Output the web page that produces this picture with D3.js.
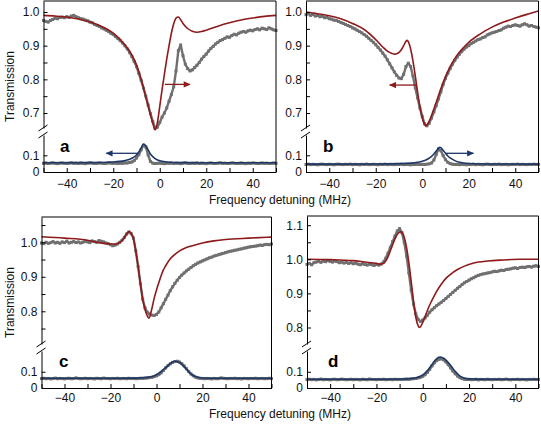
<!DOCTYPE html>
<html><head><meta charset="utf-8">
<script src="https://cdn.jsdelivr.net/npm/d3@7"></script>
<style>
body{margin:0;background:#fff;}
svg{display:block;font-family:"Liberation Sans",Arial,Helvetica,sans-serif;}
</style></head><body>
<svg id="chart" width="541" height="424"></svg>
<script>
// ---------- DATA ----------
const freqs = d3.range(-50, 51, 1);           // measured frequency grid (MHz)
const xTickValues = d3.range(-50, 51, 10);
const xTickLabels = [-40, -20, 0, 20, 40];
const yLabelsA = [0.7, 0.8, 0.9, 1.0];
const yLabelsB = [0.7, 0.8, 0.9, 1.0];
const yLabelsC = [0.8, 0.9, 1.0];
const yLabelsD = [0.8, 0.9, 1.0, 1.1];
const yLabelsLow = [0, 0.1];
const axisTitleX = "Frequency detuning (MHz)";
const axisTitleY = "Transmission";

// panel a
const measUpA = [
0.975,0.972,0.970,0.975,0.978,0.982,0.980,0.984,0.985,0.983,
0.986,0.984,0.988,0.990,0.986,0.983,0.980,0.979,0.976,0.974,
0.970,0.968,0.963,0.960,0.957,0.953,0.950,0.946,0.942,0.937,
0.933,0.927,0.921,0.915,0.908,0.900,0.891,0.880,0.868,0.853,
0.838,0.818,0.797,0.774,0.750,0.724,0.698,0.675,0.655,0.658,
0.672,0.688,0.700,0.715,0.735,0.755,0.778,0.825,0.885,0.902,
0.870,0.845,0.832,0.825,0.828,0.835,0.842,0.850,0.860,0.868,
0.875,0.884,0.892,0.898,0.905,0.910,0.915,0.918,0.922,0.926,
0.925,0.930,0.934,0.932,0.937,0.940,0.942,0.940,0.944,0.946,
0.944,0.948,0.950,0.947,0.952,0.950,0.948,0.953,0.950,0.947,
0.945];
const measLoA = [
0.052,0.054,0.051,0.053,0.055,0.052,0.050,0.053,0.054,0.052,
0.051,0.053,0.055,0.052,0.053,0.051,0.054,0.052,0.050,0.053,
0.055,0.053,0.051,0.052,0.054,0.053,0.051,0.052,0.055,0.053,
0.052,0.054,0.051,0.053,0.052,0.055,0.054,0.057,0.060,0.068,
0.084,0.104,0.133,0.160,0.150,0.102,0.063,0.053,0.051,0.052,
0.054,0.052,0.050,0.053,0.052,0.054,0.051,0.053,0.052,0.050,
0.053,0.055,0.052,0.051,0.053,0.052,0.054,0.051,0.053,0.052,
0.050,0.053,0.054,0.052,0.051,0.053,0.055,0.052,0.053,0.051,
0.052,0.054,0.053,0.051,0.052,0.054,0.052,0.050,0.053,0.052,
0.054,0.053,0.051,0.052,0.054,0.052,0.053,0.051,0.052,0.054,
0.052];
const fitUpAx = [-50,-45,-40,-35,-30,-25,-20,-15,-12,-10,-8,-6,-4,-3,-2,-1,0,1,2,3,4,5,6,7,8,9,10,12,14,16,18,20,25,30,35,40,45,50];
const fitUpAy = [0.990,0.988,0.985,0.979,0.970,0.957,0.937,0.903,0.873,0.843,0.800,0.748,0.695,0.670,0.650,0.672,0.720,0.770,0.815,0.860,0.900,0.937,0.965,0.982,0.985,0.977,0.966,0.951,0.943,0.940,0.942,0.946,0.958,0.968,0.976,0.982,0.987,0.990];
const fitLoAx = [-50,-30,-20,-15,-12,-10,-9,-8,-7,-6,-5,-4,-3,-2,0,3,6,10,20,50];
const fitLoAy = [0.055,0.056,0.060,0.068,0.082,0.102,0.120,0.145,0.168,0.157,0.132,0.108,0.092,0.080,0.067,0.060,0.057,0.056,0.055,0.055];
const arrowRedA = [2.2, 13, 0.785];
const arrowBlueA = [-9.4, -23, 0.112];

// panel b
const measUpB = [
0.992,0.995,0.990,0.993,0.988,0.990,0.986,0.987,0.983,0.984,
0.980,0.979,0.976,0.975,0.972,0.969,0.966,0.963,0.960,0.957,
0.953,0.950,0.946,0.942,0.938,0.933,0.928,0.922,0.916,0.910,
0.903,0.895,0.887,0.878,0.869,0.858,0.846,0.834,0.822,0.812,
0.804,0.802,0.815,0.838,0.848,0.838,0.810,0.775,0.745,0.715,
0.690,0.668,0.662,0.670,0.685,0.703,0.722,0.742,0.763,0.785,
0.803,0.818,0.832,0.845,0.856,0.866,0.875,0.883,0.890,0.896,
0.900,0.906,0.910,0.914,0.918,0.920,0.924,0.926,0.932,0.935,
0.938,0.940,0.942,0.945,0.947,0.952,0.955,0.958,0.957,0.960,
0.962,0.960,0.958,0.962,0.965,0.962,0.958,0.960,0.957,0.955,
0.953];
const measLoB = [
0.045,0.047,0.044,0.046,0.045,0.043,0.046,0.047,0.045,0.044,
0.046,0.045,0.043,0.046,0.047,0.045,0.044,0.046,0.045,0.047,
0.044,0.046,0.045,0.043,0.046,0.045,0.047,0.044,0.045,0.046,
0.045,0.043,0.046,0.045,0.047,0.044,0.046,0.045,0.044,0.046,
0.045,0.047,0.044,0.046,0.045,0.043,0.046,0.045,0.047,0.045,
0.046,0.045,0.047,0.049,0.054,0.072,0.105,0.138,0.128,0.098,
0.074,0.058,0.050,0.047,0.045,0.046,0.044,0.046,0.045,0.043,
0.046,0.045,0.047,0.044,0.046,0.045,0.043,0.046,0.047,0.045,
0.044,0.046,0.045,0.047,0.044,0.045,0.046,0.043,0.045,0.046,
0.045,0.047,0.044,0.046,0.045,0.044,0.046,0.045,0.047,0.045,
0.046];
const fitUpBx = [-50,-45,-40,-35,-30,-25,-20,-17,-15,-13,-12,-11,-10,-9,-8,-7,-6.5,-6,-5,-4,-3,-2,-1,0,1,1.5,2,3,4,5,6,8,10,12,15,18,20,25,30,35,40,45,50];
const fitUpBy = [1.000,0.995,0.989,0.980,0.966,0.948,0.918,0.896,0.884,0.877,0.875,0.876,0.880,0.888,0.900,0.913,0.916,0.912,0.890,0.855,0.810,0.762,0.718,0.685,0.666,0.662,0.664,0.676,0.693,0.712,0.732,0.772,0.808,0.838,0.872,0.896,0.910,0.935,0.955,0.970,0.982,0.993,1.003];
const fitLoBx = [-50,-20,-10,-5,-2,0,2,3,4,5,6,7,7.5,8,9,10,11,12,14,16,20,30,50];
const fitLoBy = [0.047,0.048,0.050,0.053,0.058,0.064,0.075,0.083,0.094,0.108,0.125,0.143,0.148,0.145,0.130,0.112,0.096,0.084,0.068,0.058,0.051,0.048,0.047];
const arrowRedB = [-2.3, -14, 0.783];
const arrowBlueB = [9.9, 22, 0.112];

// panel c
const measUpC = [
0.998,0.996,1.000,0.997,0.999,1.002,0.998,1.000,0.997,1.001,
0.999,1.003,0.998,1.000,1.002,0.999,1.001,0.998,1.000,1.003,
1.001,0.999,1.004,1.002,1.000,1.005,1.003,1.001,0.998,0.996,
0.993,0.990,0.992,0.995,1.000,1.006,1.014,1.024,1.030,1.025,
1.012,0.975,0.930,0.880,0.835,0.810,0.797,0.792,0.789,0.788,
0.791,0.798,0.810,0.822,0.835,0.847,0.860,0.871,0.881,0.890,
0.898,0.905,0.911,0.917,0.922,0.927,0.932,0.936,0.940,0.943,
0.946,0.949,0.952,0.955,0.957,0.960,0.962,0.964,0.966,0.968,
0.970,0.972,0.974,0.975,0.977,0.978,0.980,0.981,0.983,0.984,
0.986,0.987,0.988,0.989,0.990,0.992,0.991,0.993,0.994,0.993,
0.995];
const measLoC = [
0.058,0.060,0.057,0.059,0.056,0.058,0.061,0.057,0.059,0.058,
0.056,0.059,0.060,0.057,0.058,0.062,0.059,0.057,0.058,0.060,
0.057,0.059,0.058,0.056,0.060,0.058,0.057,0.061,0.059,0.058,
0.057,0.059,0.058,0.060,0.057,0.058,0.059,0.057,0.060,0.058,
0.059,0.057,0.058,0.060,0.059,0.061,0.062,0.064,0.066,0.070,
0.075,0.082,0.093,0.108,0.124,0.138,0.149,0.158,0.163,0.165,
0.160,0.150,0.136,0.119,0.101,0.086,0.075,0.067,0.062,0.060,
0.058,0.057,0.059,0.058,0.056,0.059,0.057,0.058,0.062,0.060,
0.058,0.057,0.059,0.058,0.060,0.057,0.058,0.056,0.059,0.058,
0.057,0.059,0.058,0.060,0.057,0.058,0.059,0.057,0.058,0.060,
0.058];
const fitUpCx = [-50,-40,-30,-25,-20,-18,-16,-14.5,-13,-12,-11,-10,-9,-8,-7,-6,-5,-4,-3.3,-2,-1,0,1,2,3,4,6,8,10,13,16,20,25,30,40,50];
const fitUpCy = [1.016,1.012,1.006,0.999,0.995,0.995,0.999,1.008,1.024,1.031,1.026,1.010,0.975,0.930,0.880,0.835,0.805,0.787,0.780,0.808,0.838,0.862,0.883,0.903,0.920,0.932,0.952,0.965,0.975,0.985,0.991,0.998,1.004,1.008,1.012,1.015];
const fitLoCx = [-50,-20,-10,-5,-3,-1,1,3,5,6,7,8,9,10,11,12,13,14,15,16,18,20,25,50];
const fitLoCy = [0.060,0.060,0.061,0.064,0.068,0.076,0.091,0.114,0.138,0.150,0.160,0.165,0.163,0.157,0.146,0.132,0.116,0.100,0.087,0.077,0.066,0.062,0.060,0.060];

// panel d
const measUpD = [
0.985,0.988,0.984,0.990,0.992,0.994,0.991,0.995,0.993,0.996,
0.994,0.992,0.995,0.993,0.990,0.992,0.989,0.991,0.988,0.990,
0.987,0.989,0.986,0.984,0.987,0.985,0.983,0.986,0.984,0.982,
0.985,0.983,0.986,0.992,1.003,1.018,1.035,1.052,1.068,1.083,
1.090,1.078,1.050,1.010,0.960,0.910,0.868,0.840,0.824,0.818,
0.822,0.828,0.836,0.845,0.852,0.858,0.864,0.869,0.874,0.879,
0.885,0.891,0.897,0.903,0.909,0.915,0.920,0.926,0.931,0.935,
0.939,0.943,0.946,0.950,0.953,0.955,0.957,0.958,0.960,0.961,
0.963,0.965,0.964,0.966,0.968,0.967,0.970,0.971,0.972,0.974,
0.975,0.973,0.976,0.977,0.976,0.978,0.979,0.977,0.980,0.981,
0.979];
const measLoD = [
0.052,0.054,0.051,0.053,0.050,0.052,0.055,0.051,0.053,0.052,
0.050,0.053,0.054,0.051,0.052,0.055,0.053,0.051,0.052,0.054,
0.051,0.053,0.052,0.050,0.054,0.052,0.051,0.055,0.053,0.052,
0.051,0.053,0.052,0.054,0.051,0.052,0.053,0.051,0.054,0.052,
0.053,0.052,0.054,0.055,0.054,0.056,0.057,0.059,0.062,0.066,
0.072,0.082,0.096,0.115,0.136,0.155,0.169,0.177,0.180,0.173,
0.161,0.144,0.124,0.105,0.088,0.074,0.064,0.058,0.054,0.052,
0.053,0.051,0.052,0.054,0.050,0.053,0.052,0.051,0.054,0.052,
0.051,0.053,0.052,0.054,0.051,0.052,0.055,0.052,0.050,0.053,
0.052,0.054,0.051,0.053,0.052,0.050,0.053,0.052,0.054,0.052,
0.053];
const fitUpDx = [-50,-40,-30,-25,-20,-18.5,-17,-16,-15,-14,-13,-12,-11,-10,-9.4,-9,-8,-7,-6,-5,-4,-3,-2,-1.5,-1,0,1,2,3,4,6,8,10,12,15,18,22,28,35,42,50];
const fitUpDy = [1.000,0.999,0.996,0.992,0.988,0.986,0.988,0.995,1.008,1.025,1.043,1.060,1.073,1.080,1.081,1.079,1.065,1.035,0.990,0.935,0.878,0.830,0.805,0.800,0.802,0.815,0.832,0.850,0.866,0.880,0.906,0.927,0.944,0.956,0.970,0.980,0.989,0.995,0.998,1.000,1.000];
const fitLoDx = [-50,-20,-10,-5,-3,-1,1,2,3,4,5,6,7,7.5,8,9,10,11,12,13,14,15,16,17,19,22,30,50];
const fitLoDy = [0.054,0.054,0.055,0.058,0.062,0.072,0.092,0.107,0.125,0.145,0.165,0.180,0.189,0.190,0.189,0.183,0.172,0.157,0.140,0.121,0.103,0.088,0.075,0.066,0.058,0.055,0.054,0.054];

// ---------- STYLE / LAYOUT ----------
const RED = "#8e1a1c", BLUE = "#1d3767", GRAY = "#707070";
const FONT = 12;

const panels = [
  {letter:"a", up:measUpA, lo:measLoA, fux:fitUpAx, fuy:fitUpAy, flx:fitLoAx, fly:fitLoAy, ylab:yLabelsA,
   arrows:[[arrowRedA,"up",RED],[arrowBlueA,"lo",BLUE]],
   left:43.5, right:276, top:1, upEnd:128, upDom:[0.6555,1.0327], loStart:135, bottom:172, loDom:[0,0.2216],
   lx:60, ly:151.5, ytitle:true, pad:7},
  {letter:"b", up:measUpB, lo:measLoB, fux:fitUpBx, fuy:fitUpBy, flx:fitLoBx, fly:fitLoBy, ylab:yLabelsB,
   arrows:[[arrowRedB,"up",RED],[arrowBlueB,"lo",BLUE]],
   left:306, right:538.5, top:1, upEnd:128, upDom:[0.6555,1.0327], loStart:135, bottom:172, loDom:[0,0.2216],
   lx:323, ly:152, ytitle:false, pad:7},
  {letter:"c", up:measUpC, lo:measLoC, fux:fitUpCx, fuy:fitUpCy, flx:fitLoCx, fly:fitLoCy, ylab:yLabelsC,
   arrows:[],
   left:41.5, right:271.5, top:217, upEnd:344, upDom:[0.7052,1.0733], loStart:351, bottom:388, loDom:[0,0.228],
   lx:59, ly:366.5, ytitle:true, pad:5},
  {letter:"d", up:measUpD, lo:measLoD, fux:fitUpDx, fuy:fitUpDy, flx:fitLoDx, fly:fitLoDy, ylab:yLabelsD,
   arrows:[],
   left:307, right:538.5, top:216, upEnd:344, upDom:[0.7516,1.127], loStart:351, bottom:388, loDom:[0,0.228],
   lx:328, ly:366.5, ytitle:false, pad:5}
];

const svg = d3.select("#chart");
const defs = svg.append("defs");
[["arrRed",RED],["arrBlue",BLUE]].forEach(([id,c])=>{
  defs.append("marker").attr("id",id).attr("viewBox","0 0 10 10").attr("refX",9).attr("refY",5)
    .attr("markerWidth",8).attr("markerHeight",7).attr("markerUnits","userSpaceOnUse").attr("orient","auto")
    .append("path").attr("d","M0,0.5L10,5L0,9.5Z").attr("fill",c);
});

const fmt = d => d === 0 ? "0" : d3.format(".1f")(d);

panels.forEach(p => {
  const g = svg.append("g");
  const x = d3.scaleLinear().domain([-50,50]).range([p.left,p.right]);
  const yU = d3.scaleLinear().domain(p.upDom).range([p.upEnd,p.top]);
  const yL = d3.scaleLinear().domain(p.loDom).range([p.bottom,p.loStart]);

  function measured(arr, y){
    const pts = arr.map((v,i)=>[freqs[i], v]);
    g.append("path").datum(pts).attr("fill","none").attr("stroke",GRAY).attr("stroke-width",2.4)
      .attr("stroke-linejoin","round")
      .attr("d", d3.line().x(d=>x(d[0])).y(d=>y(d[1])));
    g.append("g").selectAll("rect").data(pts).join("rect")
      .attr("x",d=>x(d[0])-1.5).attr("y",d=>y(d[1])-1.5).attr("width",3).attr("height",3)
      .attr("fill",GRAY);
  }
  function fit(xs, ys, y, color){
    const pts = xs.map((v,i)=>[v, ys[i]]);
    g.append("path").datum(pts).attr("fill","none").attr("stroke",color).attr("stroke-width",1.6)
      .attr("d", d3.line().curve(d3.curveMonotoneX).x(d=>x(d[0])).y(d=>y(d[1])));
  }
  measured(p.up, yU);
  fit(p.fux, p.fuy, yU, RED);
  measured(p.lo, yL);
  fit(p.flx, p.fly, yL, BLUE);

  // frame: top and right
  g.append("line").attr("x1",p.left).attr("x2",p.right).attr("y1",p.top).attr("y2",p.top)
    .attr("stroke","#000").attr("stroke-width",1);
  g.append("line").attr("x1",p.right).attr("x2",p.right).attr("y1",p.top).attr("y2",p.bottom)
    .attr("stroke","#000").attr("stroke-width",1);

  // bottom axis
  const ax = g.append("g").attr("transform",`translate(0,${p.bottom})`)
    .call(d3.axisBottom(x).tickValues(xTickValues).tickSizeInner(-4).tickSizeOuter(0).tickPadding(p.pad)
      .tickFormat(d => xTickLabels.includes(d) ? d3.format("")(d) : ""));
  // left axis upper
  const upTicks = d3.range(0.5, 1.2, 0.05).map(v=>Math.round(v*100)/100)
    .filter(v => v >= p.upDom[0] && v <= p.upDom[1]);
  const au = g.append("g").attr("transform",`translate(${p.left},0)`)
    .call(d3.axisLeft(yU).tickValues(upTicks).tickSizeInner(-4).tickSizeOuter(0).tickPadding(4)
      .tickFormat(d => p.ylab.some(v=>Math.abs(v-d)<1e-6) ? fmt(d) : ""));
  const al = g.append("g").attr("transform",`translate(${p.left},0)`)
    .call(d3.axisLeft(yL).tickValues(yLabelsLow).tickSizeInner(-4).tickSizeOuter(0).tickPadding(4)
      .tickFormat(fmt));
  [ax,au,al].forEach(a=>{
    a.attr("font-size",FONT).attr("font-family",null);
    a.selectAll("path,line").attr("stroke","#000");
    a.selectAll("text").attr("fill","#111");
  });

  // axis break marks
  [p.upEnd, p.loStart].forEach(yb=>{
    g.append("line").attr("x1",p.left-5).attr("x2",p.left+4).attr("y1",yb+3).attr("y2",yb-3)
      .attr("stroke","#000").attr("stroke-width",1);
  });

  // panel letter
  g.append("text").attr("x",p.lx).attr("y",p.ly).attr("font-size",17).attr("font-weight","bold")
    .attr("fill","#000").text(p.letter);

  // arrows
  p.arrows.forEach(([a,seg,c])=>{
    const y = seg==="up" ? yU : yL;
    g.append("line").attr("x1",x(a[0])).attr("x2",x(a[1])).attr("y1",y(a[2])).attr("y2",y(a[2]))
      .attr("stroke",c).attr("stroke-width",1.3)
      .attr("marker-end", `url(#${c===RED?"arrRed":"arrBlue"})`);
  });

  if (p.ytitle){
    svg.append("text").attr("transform",`translate(10,${(p.top+p.bottom)/2}) rotate(-90)`)
      .attr("text-anchor","middle").attr("dy","0.35em").attr("font-size",FONT).attr("fill","#111")
      .text(axisTitleY);
  }
});

// x titles
[203.5, 418].forEach(yb=>{
  svg.append("text").attr("x",280).attr("y",yb).attr("text-anchor","middle")
    .attr("font-size",FONT).attr("fill","#111").text(axisTitleX);
});
</script>
</body></html>
